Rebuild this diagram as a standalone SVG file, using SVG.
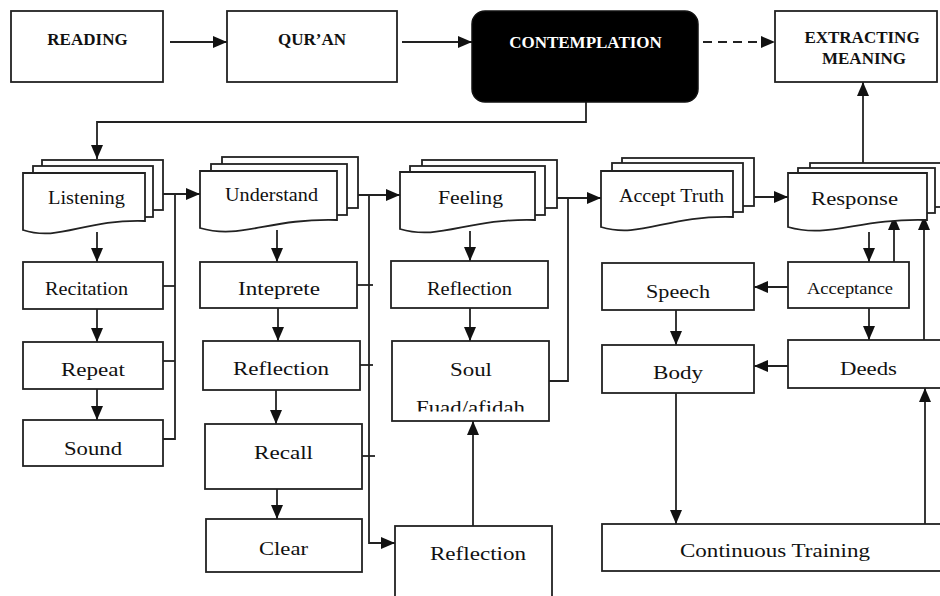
<svg xmlns="http://www.w3.org/2000/svg" width="940" height="596" viewBox="0 0 940 596">
<defs>
<style>
.ln{fill:none;stroke:#222;stroke-width:1.8}
.bx{fill:#fff;stroke:#222;stroke-width:1.8}
.t{font-family:"Liberation Serif","Times New Roman",serif;font-size:19px;fill:#111;text-anchor:middle}
.tb{font-family:"Liberation Serif","Times New Roman",serif;font-size:17px;font-weight:bold;fill:#111;text-anchor:middle}
</style>
<marker id="ah" viewBox="0 0 14 12" refX="14" refY="6" markerWidth="14" markerHeight="12" markerUnits="userSpaceOnUse" orient="auto"><path d="M0,0 L14,6 L0,12 z" fill="#111"/></marker>
<clipPath id="soulclip"><rect x="392" y="341" width="157" height="70.5"/></clipPath>
</defs>
<rect width="940" height="596" fill="#fff"/>

<g id="connectors">
<line class="ln" x1="170" y1="42" x2="227" y2="42" marker-end="url(#ah)"/>
<line class="ln" x1="402" y1="42" x2="472" y2="42" marker-end="url(#ah)"/>
<line class="ln" x1="703" y1="42" x2="775" y2="42" stroke-dasharray="9 6" marker-end="url(#ah)"/>
<path class="ln" d="M586,102 V122 H97 V159" marker-end="url(#ah)"/>
<line class="ln" x1="863" y1="163" x2="863" y2="82" marker-end="url(#ah)"/>
<!-- column 1 -->
<line class="ln" x1="97" y1="232" x2="97" y2="262" marker-end="url(#ah)"/>
<line class="ln" x1="97" y1="309" x2="97" y2="342" marker-end="url(#ah)"/>
<line class="ln" x1="97" y1="389" x2="97" y2="420" marker-end="url(#ah)"/>
<path class="ln" d="M163,439 H175 V194"/>
<line class="ln" x1="163" y1="286" x2="175" y2="286"/>
<line class="ln" x1="163" y1="361" x2="175" y2="361"/>
<line class="ln" x1="163" y1="194" x2="200" y2="194" marker-end="url(#ah)"/>
<!-- column 2 -->
<line class="ln" x1="277" y1="230" x2="277" y2="262" marker-end="url(#ah)"/>
<line class="ln" x1="278" y1="308" x2="278" y2="341" marker-end="url(#ah)"/>
<line class="ln" x1="276" y1="390" x2="276" y2="424" marker-end="url(#ah)"/>
<line class="ln" x1="277" y1="489" x2="277" y2="519" marker-end="url(#ah)"/>
<path class="ln" d="M369,195 V543 H395" marker-end="url(#ah)"/>
<line class="ln" x1="357" y1="285" x2="373" y2="285"/>
<line class="ln" x1="360" y1="365" x2="373" y2="365"/>
<line class="ln" x1="362" y1="456" x2="375" y2="456"/>
<line class="ln" x1="358" y1="195" x2="400" y2="195" marker-end="url(#ah)"/>
<!-- column 3 -->
<line class="ln" x1="470" y1="231" x2="470" y2="261" marker-end="url(#ah)"/>
<line class="ln" x1="470" y1="308" x2="470" y2="341" marker-end="url(#ah)"/>
<line class="ln" x1="473" y1="526" x2="473" y2="421" marker-end="url(#ah)"/>
<path class="ln" d="M549,381 H568 V198"/>
<line class="ln" x1="557" y1="198" x2="601" y2="198" marker-end="url(#ah)"/>
<!-- right part -->
<line class="ln" x1="754" y1="197" x2="788" y2="197" marker-end="url(#ah)"/>
<line class="ln" x1="869" y1="232" x2="869" y2="262" marker-end="url(#ah)"/>
<line class="ln" x1="894" y1="262" x2="894" y2="216" marker-end="url(#ah)"/>
<line class="ln" x1="924" y1="340" x2="924" y2="216" marker-end="url(#ah)"/>
<line class="ln" x1="788" y1="287" x2="754" y2="287" marker-end="url(#ah)"/>
<line class="ln" x1="869" y1="308" x2="869" y2="340" marker-end="url(#ah)"/>
<line class="ln" x1="788" y1="366" x2="754" y2="366" marker-end="url(#ah)"/>
<line class="ln" x1="676" y1="310" x2="676" y2="345" marker-end="url(#ah)"/>
<line class="ln" x1="676" y1="393" x2="676" y2="524" marker-end="url(#ah)"/>
<line class="ln" x1="925" y1="524" x2="925" y2="388" marker-end="url(#ah)"/>
</g>

<g id="reading"><rect class="bx" x="11" y="11" width="152" height="71"/><text class="tb" x="87.5" y="45">READING</text></g>
<g id="quran"><rect class="bx" x="227" y="11" width="170" height="71"/><text class="tb" x="312" y="45">QUR’AN</text></g>
<g id="contemplation"><rect x="472" y="11" width="226" height="91" rx="13" fill="#000" stroke="#111" stroke-width="1.5"/><text class="tb" x="585.5" y="48" fill="#fff" style="fill:#fff">CONTEMPLATION</text></g>
<g id="extracting"><rect class="bx" x="775" y="11" width="162" height="71"/><text class="tb" x="862" y="43">EXTRACTING</text><text class="tb" x="864" y="64">MEANING</text></g>

<g id="listening">
<rect class="bx" x="42" y="160" width="121" height="50"/>
<rect class="bx" x="33" y="166" width="120" height="51"/>
<path class="bx" d="M23,173 H145 V221 C84,219 59.6,242 23,230 Z"/>
<text class="t" x="86.5" y="204" textLength="77" lengthAdjust="spacingAndGlyphs">Listening</text>
</g>
<g id="recitation"><rect class="bx" x="23" y="262" width="140" height="47"/><text class="t" x="86.5" y="295" textLength="83" lengthAdjust="spacingAndGlyphs">Recitation</text></g>
<g id="repeat"><rect class="bx" x="23" y="342" width="140" height="47"/><text class="t" x="93" y="376" textLength="64" lengthAdjust="spacingAndGlyphs">Repeat</text></g>
<g id="sound"><rect class="bx" x="23" y="420" width="140" height="46"/><text class="t" x="93" y="455" textLength="58" lengthAdjust="spacingAndGlyphs">Sound</text></g>

<g id="understand">
<rect class="bx" x="222" y="157" width="136" height="51"/>
<rect class="bx" x="211" y="164" width="136" height="51"/>
<path class="bx" d="M200,171 H337 V220 C268.5,218 241,240 200,228 Z"/>
<text class="t" x="271.5" y="201" textLength="93" lengthAdjust="spacingAndGlyphs">Understand</text>
</g>
<g id="inteprete"><rect class="bx" x="200" y="262" width="157" height="46"/><text class="t" x="279" y="295" textLength="82" lengthAdjust="spacingAndGlyphs">Inteprete</text></g>
<g id="reflection1"><rect class="bx" x="203" y="341" width="157" height="49"/><text class="t" x="281" y="375" textLength="96" lengthAdjust="spacingAndGlyphs">Reflection</text></g>
<g id="recall"><rect class="bx" x="205" y="424" width="157" height="65"/><text class="t" x="283.5" y="459" textLength="59" lengthAdjust="spacingAndGlyphs">Recall</text></g>
<g id="clear"><rect class="bx" x="206" y="519" width="156" height="53"/><text class="t" x="283.5" y="555" textLength="49" lengthAdjust="spacingAndGlyphs">Clear</text></g>

<g id="feeling">
<rect class="bx" x="422" y="160" width="135" height="48"/>
<rect class="bx" x="410" y="166" width="135" height="49"/>
<path class="bx" d="M400,172 H535 V220 C467.5,218 440.5,241 400,229 Z"/>
<text class="t" x="470.5" y="204" textLength="65" lengthAdjust="spacingAndGlyphs">Feeling</text>
</g>
<g id="reflection2"><rect class="bx" x="391" y="261" width="157" height="47"/><text class="t" x="469.5" y="295" textLength="85" lengthAdjust="spacingAndGlyphs">Reflection</text></g>
<g id="soul"><rect class="bx" x="392" y="341" width="157" height="80"/><text class="t" x="471" y="376" textLength="42" lengthAdjust="spacingAndGlyphs">Soul</text><text class="t" x="470.5" y="414" textLength="109" lengthAdjust="spacingAndGlyphs" clip-path="url(#soulclip)">Fuad/afidah</text></g>
<g id="reflection3"><rect class="bx" x="395" y="526" width="157" height="80"/><text class="t" x="478" y="560" textLength="96" lengthAdjust="spacingAndGlyphs">Reflection</text></g>

<g id="accept-truth">
<rect class="bx" x="622" y="158" width="132" height="48"/>
<rect class="bx" x="612" y="163" width="131" height="49"/>
<path class="bx" d="M601,171 H733 V217 C667,215 640.6,239 601,227 Z"/>
<text class="t" x="671.5" y="202" textLength="105" lengthAdjust="spacingAndGlyphs">Accept Truth</text>
</g>
<g id="response">
<rect class="bx" x="810" y="163" width="140" height="44"/>
<rect class="bx" x="798" y="168" width="137" height="45"/>
<path class="bx" d="M788,173 H927 V220 C857.5,218 829.7,239 788,227 Z"/>
<text class="t" x="854.5" y="205" textLength="87" lengthAdjust="spacingAndGlyphs">Response</text>
</g>
<g id="acceptance"><rect class="bx" x="788" y="262" width="121" height="46"/><text class="t" x="850" y="294" style="font-size:16px" textLength="86" lengthAdjust="spacingAndGlyphs">Acceptance</text></g>
<g id="deeds"><rect class="bx" x="788" y="340" width="160" height="48"/><text class="t" x="868.5" y="375" textLength="57" lengthAdjust="spacingAndGlyphs">Deeds</text></g>
<g id="speech"><rect class="bx" x="602" y="263" width="152" height="47"/><text class="t" x="678" y="298" textLength="64" lengthAdjust="spacingAndGlyphs">Speech</text></g>
<g id="body"><rect class="bx" x="602" y="345" width="152" height="48"/><text class="t" x="678" y="379" textLength="50" lengthAdjust="spacingAndGlyphs">Body</text></g>
<g id="continuous-training"><rect class="bx" x="602" y="524" width="346" height="47"/><text class="t" x="775" y="557" textLength="190" lengthAdjust="spacingAndGlyphs">Continuous Training</text></g>
</svg>
